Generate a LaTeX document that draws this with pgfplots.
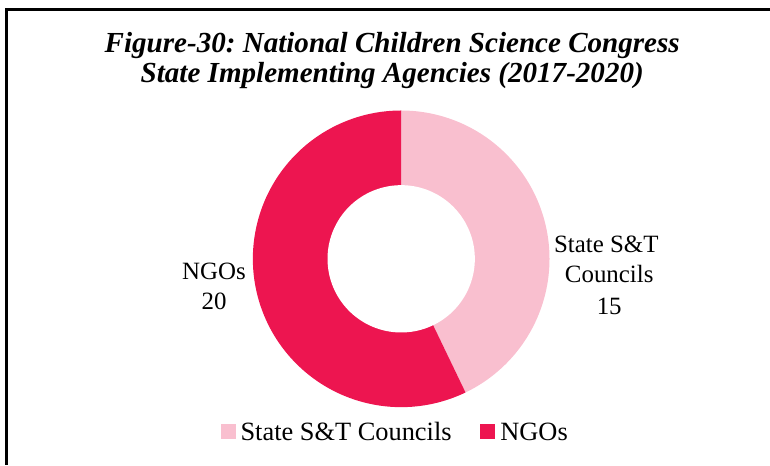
\documentclass[border=0pt]{standalone}
\usepackage{fontspec}
\setmainfont{Liberation Serif}
\usepackage{pgfplots}
\usepackage{pgfplotstable}
\pgfplotsset{compat=1.18}
\definecolor{pinkc}{RGB}{249,191,207}
\definecolor{redc}{RGB}{237,21,80}

\pgfplotstableread{
slice value
1 15
2 20
}\donutdata

\begin{document}
\frenchspacing
\begin{tikzpicture}
\pgfplotstablegetelem{0}{value}\of\donutdata
\pgfmathtruncatemacro{\vA}{\pgfplotsretval}
\pgfplotstablegetelem{1}{value}\of\donutdata
\pgfmathtruncatemacro{\vB}{\pgfplotsretval}
\pgfmathsetmacro{\aA}{360*\vA/(\vA+\vB)}
\pgfmathsetmacro{\endA}{90-\aA}
\pgfmathsetmacro{\endB}{450-\aA}
\begin{axis}[
  width=770bp, height=466bp, scale only axis,
  xmin=0, xmax=770, ymin=0, ymax=466,
  hide axis, clip=false,
  legend columns=2,
  legend style={at={(axis cs:398.5,32)}, anchor=center, draw=none, fill=none,
    font=\fontsize{26.5bp}{28bp}\selectfont,
    nodes={inner xsep=5bp, inner ysep=0bp},
    /tikz/every even column/.append style={column sep=24bp}},
]
\path (axis cs:0,0) rectangle (axis cs:770,466);
\addplot[fill=pinkc, draw=none, domain=\endA:90, samples=150,
  legend image code/.code={\fill[pinkc] (0bp,-7bp) rectangle (15bp,8bp);}]
  ({403+149*cos(x)},{206+149*sin(x)}) -- (axis cs:403,206) -- cycle;
\addplot[fill=redc, draw=none, domain=90:\endB, samples=200,
  legend image code/.code={\fill[redc] (0bp,-7bp) rectangle (15bp,8bp);}]
  ({403+149*cos(x)},{206+149*sin(x)}) -- (axis cs:403,206) -- cycle;
\addplot[fill=white, draw=none, domain=0:360, samples=150, forget plot]
  ({403+74*cos(x)},{206+74*sin(x)}) -- cycle;
\legend{State S\&T Councils, NGOs}

% frame
\draw[line width=3bp, line cap=rect] (axis cs:7,0) -- (axis cs:7,456) -- (axis cs:772,456);

% title
\node[anchor=base, font=\fontsize{29.2bp}{30bp}\selectfont\bfseries\itshape] at (axis cs:394,413) {Figure-30: National Children Science Congress};
\node[anchor=base, font=\fontsize{29.2bp}{30bp}\selectfont\bfseries\itshape] at (axis cs:394,383) {State Implementing Agencies (2017-2020)};

% data labels
\node[anchor=base, font=\fontsize{25bp}{28bp}\selectfont] at (axis cs:215,185) {NGOs};
\node[anchor=base, font=\fontsize{25bp}{28bp}\selectfont] at (axis cs:215,155) {\vB};
\node[anchor=base, font=\fontsize{25bp}{28bp}\selectfont] at (axis cs:609,212) {State S\&T};
\node[anchor=base, font=\fontsize{25bp}{28bp}\selectfont] at (axis cs:612,182) {Councils};
\node[anchor=base, font=\fontsize{25bp}{28bp}\selectfont] at (axis cs:612,150) {\vA};
\end{axis}
\end{tikzpicture}
\end{document}
